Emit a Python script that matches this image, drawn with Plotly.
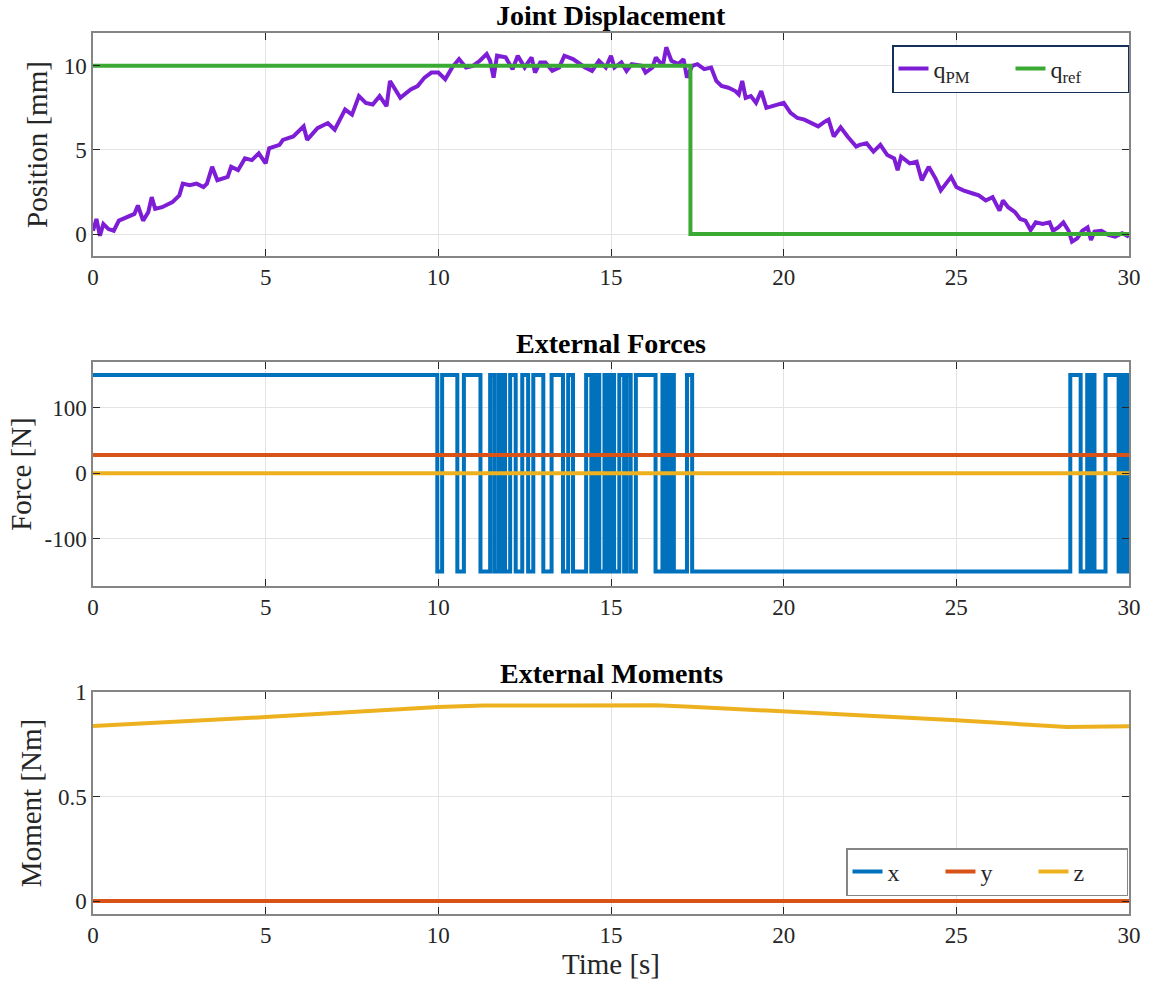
import plotly.graph_objects as go

# ---------------- data ----------------
t_pm = [0.0, 0.1, 0.2, 0.3, 0.45, 0.6, 0.75, 1.0, 1.2, 1.3, 1.45, 1.6, 1.7, 1.8, 2.0, 2.3, 2.5, 2.6, 2.8, 3.0,
        3.2, 3.3, 3.45, 3.6, 3.9, 4.0, 4.2, 4.4, 4.6, 4.8, 5.0, 5.1, 5.4, 5.5, 5.8, 6.1, 6.2, 6.5, 6.8, 7.0,
        7.3, 7.5, 7.7, 7.9, 8.1, 8.3, 8.5, 8.6, 8.8, 8.9, 9.2, 9.4, 9.6, 9.8, 10.0, 10.2, 10.4, 10.6, 10.8, 11.0,
        11.2, 11.4, 11.5, 11.6, 11.7, 11.95, 12.15, 12.3, 12.5, 12.7, 12.8, 12.95, 13.1, 13.3, 13.5, 13.65, 13.9, 14.1, 14.25, 14.45,
        14.65, 14.85, 15.0, 15.1, 15.3, 15.45, 15.6, 15.9, 16.0, 16.2, 16.3, 16.5, 16.6, 16.75, 16.95, 17.1, 17.2, 17.35, 17.5, 17.7,
        17.9, 18.05, 18.2, 18.4, 18.6, 18.7, 18.8, 18.9, 19.05, 19.2, 19.35, 19.5, 19.7, 20.0, 20.2, 20.4, 20.6, 20.8, 21.0, 21.2,
        21.3, 21.45, 21.65, 21.85, 22.1, 22.2, 22.4, 22.6, 22.8, 23.0, 23.2, 23.3, 23.4, 23.65, 23.85, 24.0, 24.2, 24.4, 24.55, 24.7,
        24.85, 25.0, 25.2, 25.5, 25.65, 25.85, 26.05, 26.25, 26.35, 26.5, 26.7, 26.85, 27.0, 27.15, 27.3, 27.5, 27.7, 27.8, 27.95, 28.1,
        28.25, 28.35, 28.5, 28.65, 28.8, 28.9, 29.0, 29.2, 29.4, 29.6, 29.8, 30.0]
q_pm = [0.2, 0.9, -0.1, 0.6, 0.3, 0.2, 0.8, 1.0, 1.2, 1.7, 0.8, 1.3, 2.2, 1.5, 1.6, 1.9, 2.3, 3.0, 2.9, 3.0,
        2.8, 3.0, 4.0, 3.2, 3.4, 4.0, 3.8, 4.5, 4.4, 4.8, 4.2, 5.1, 5.3, 5.6, 5.8, 6.4, 5.6, 6.3, 6.6, 6.2,
        7.4, 7.1, 8.2, 7.8, 7.7, 8.2, 7.6, 9.1, 8.5, 8.1, 8.6, 8.8, 9.3, 9.6, 9.6, 9.2, 9.9, 10.4, 9.9, 10.0,
        10.3, 10.7, 10.3, 9.3, 10.6, 10.5, 9.8, 10.6, 9.9, 10.5, 9.6, 10.2, 10.2, 9.7, 9.9, 10.6, 10.4, 10.1, 9.9, 9.7,
        10.3, 9.9, 10.6, 9.9, 10.2, 9.7, 10.1, 10.0, 9.6, 9.9, 10.5, 10.0, 11.1, 10.3, 10.1, 10.4, 9.3, 10.0, 10.1, 9.8,
        9.9, 9.1, 8.8, 8.7, 8.5, 8.3, 9.1, 8.1, 8.2, 7.8, 8.5, 7.5, 7.6, 7.8, 7.2, 6.9, 6.8, 6.6, 6.4, 6.7,
        6.8, 5.8, 6.35, 5.8, 5.2, 5.3, 5.4, 4.9, 5.3, 4.7, 4.5, 3.8, 4.6, 4.2, 4.3, 3.2, 4.0, 3.3, 2.6, 3.0,
        3.4, 2.8, 2.6, 2.4, 2.3, 2.0, 2.2, 1.4, 2.0, 1.6, 1.3, 0.9, 0.8, 0.24, 0.7, 0.6, 0.7, 0.2, 0.4, 0.7,
        0.2, -0.45, -0.25, 0.2, 0.4, -0.35, 0.15, 0.2, -0.05, -0.15, 0.05, -0.15]

t_ref = [0.0, 17.3, 17.3, 30.0]
q_ref = [10.0, 10.0, 0.0, 0.0]

fx_t = [0.0, 9.97, 10.11, 10.55, 10.74, 11.22, 11.50, 11.62, 11.74, 11.84, 11.89, 11.93, 12.08, 12.24, 12.43,
        12.60, 12.75, 13.04, 13.28, 13.61, 13.76, 13.90, 14.28, 14.43, 14.47, 14.57, 14.63, 14.66, 14.81, 14.90,
        14.95, 15.00, 15.05, 15.09, 15.24, 15.38, 15.45, 15.57, 15.72, 16.29, 16.49, 16.58, 16.62, 16.70, 16.74,
        16.82, 17.20, 17.35, 28.30, 28.60, 28.79, 28.88, 28.93, 29.00, 29.32, 29.70, 29.74, 29.78, 29.82, 29.86,
        29.90, 29.94, 29.97, 30.00]
fx_v = [150, -150, 150, -150, 150, -150, 150, -150, 150, -150, 150, -150, 150, -150, 150,
        -150, 150, -150, 150, -150, 150, -150, 150, -150, 150, -150, 150, -150, 150, -150,
        150, -150, 150, -150, 150, -150, 150, -150, 150, -150, 150, -150, 150, -150, 150,
        -150, 150, -150, 150, -150, 150, -150, 150, -150, 150, -150, 150, -150, 150, -150,
        150, -150, 150, -150]
f_t = [0.0, 30.0]
fy_v = [28.0, 28.0]
fz_v = [0.0, 0.0]

m_t = [0.0, 30.0]
mx_v = [0.0, 0.0]
my_v = [0.0, 0.0]
mz_t = [0.0, 5.0, 10.0, 11.3, 13.5, 16.3, 17.3, 20.0, 25.0, 28.2, 30.0]
mz_v = [0.837, 0.88, 0.928, 0.935, 0.935, 0.937, 0.93, 0.908, 0.865, 0.832, 0.836]

x_ticks = [0, 5, 10, 15, 20, 25, 30]

# ---------------- colours ----------------
C_PURPLE = '#7E1DD6'
C_GREEN = '#3BAA35'
C_BLUE = '#0072BD'
C_RED = '#D95319'
C_YEL = '#EDB120'
FONT = 'Liberation Serif'
LW = 4

fig = go.Figure()
fig.add_trace(go.Scatter(x=t_pm, y=q_pm, mode='lines', name='q<sub>PM</sub>',
                         line=dict(color=C_PURPLE, width=LW), xaxis='x', yaxis='y', legend='legend'))
fig.add_trace(go.Scatter(x=t_ref, y=q_ref, mode='lines', name='q<sub>ref</sub>',
                         line=dict(color=C_GREEN, width=LW), xaxis='x', yaxis='y', legend='legend'))

fig.add_trace(go.Scatter(x=fx_t, y=fx_v, mode='lines', line_shape='hv', showlegend=False,
                         line=dict(color=C_BLUE, width=LW), xaxis='x2', yaxis='y2'))
fig.add_trace(go.Scatter(x=f_t, y=fy_v, mode='lines', showlegend=False,
                         line=dict(color=C_RED, width=LW), xaxis='x2', yaxis='y2'))
fig.add_trace(go.Scatter(x=f_t, y=fz_v, mode='lines', showlegend=False,
                         line=dict(color=C_YEL, width=LW), xaxis='x2', yaxis='y2'))

fig.add_trace(go.Scatter(x=m_t, y=mx_v, mode='lines', name='x',
                         line=dict(color=C_BLUE, width=LW), xaxis='x3', yaxis='y3', legend='legend2'))
fig.add_trace(go.Scatter(x=m_t, y=my_v, mode='lines', name='y',
                         line=dict(color=C_RED, width=LW), xaxis='x3', yaxis='y3', legend='legend2'))
fig.add_trace(go.Scatter(x=mz_t, y=mz_v, mode='lines', name='z',
                         line=dict(color=C_YEL, width=LW), xaxis='x3', yaxis='y3', legend='legend2'))

W, H = 1153, 988
L, R, T, B = 93, 16, 33, 74
ph = H - T - B


def dom(top_px, bot_px):
    return [(H - B - bot_px) / ph, (H - B - top_px) / ph]


def py(px):
    return (H - B - px) / ph


def pxx(px):
    return (px - L) / (W - L - R)


TXT = '#262626'
axis_common = dict(showgrid=True, gridcolor='#e3e3e3', gridwidth=1, zeroline=False,
                   showline=True, linecolor='#858585', linewidth=1.5, mirror='ticks',
                   ticks='inside', ticklen=7, tickcolor=TXT, tickwidth=1.2,
                   tickfont=dict(family=FONT, size=23, color=TXT))
TITLE_FONT = dict(family=FONT, size=29, color=TXT)
HEAD_FONT = dict(family=FONT, size=28, color='#000000')

xcommon = dict(axis_common, range=[0, 30], tickvals=x_ticks, ticktext=[str(v) for v in x_ticks], domain=[0, 1])

fig.update_layout(
    width=W, height=H, margin=dict(l=L, r=R, t=T, b=B),
    paper_bgcolor='white', plot_bgcolor='white',
    font=dict(family=FONT, color=TXT),
    xaxis=dict(xcommon, anchor='y'),
    xaxis2=dict(xcommon, anchor='y2'),
    xaxis3=dict(xcommon, anchor='y3',
                title=dict(text='Time [s]', font=TITLE_FONT, standoff=4)),
    yaxis=dict(axis_common, domain=dom(33, 256), anchor='x', range=[-1.3, 11.95],
               tickvals=[0, 5, 10], ticktext=['0', '5', '10'],
               title=dict(text='Position [mm]', font=TITLE_FONT, standoff=8)),
    yaxis2=dict(axis_common, domain=dom(362, 586), anchor='x2', range=[-172, 170],
                tickvals=[-100, 0, 100], ticktext=['-100', '0', '100'],
                title=dict(text='Force [N]', font=TITLE_FONT, standoff=4)),
    yaxis3=dict(axis_common, domain=dom(692, 914), anchor='x3', range=[-0.062, 1.0],
                tickvals=[0, 0.5, 1], ticktext=['0', '0.5', '1'],
                title=dict(text='Moment [Nm]', font=TITLE_FONT, standoff=8)),
    legend=dict(orientation='h', x=pxx(1137), xanchor='right', y=py(45), yanchor='top',
                bgcolor='white', bordercolor='#15305A', borderwidth=1.5,
                entrywidth=72, entrywidthmode='pixels',
                font=dict(family=FONT, size=24, color=TXT)),
    legend2=dict(orientation='h', x=pxx(1136), xanchor='right', y=py(848), yanchor='top',
                 bgcolor='white', bordercolor='#858585', borderwidth=1.5,
                 entrywidth=48, entrywidthmode='pixels',
                 font=dict(family=FONT, size=24, color=TXT)),
    annotations=[
        dict(text='<b>Joint Displacement</b>', x=0.5, y=py(16), xref='paper', yref='paper',
             showarrow=False, xanchor='center', yanchor='middle', font=HEAD_FONT),
        dict(text='<b>External Forces</b>', x=0.5, y=py(343), xref='paper', yref='paper',
             showarrow=False, xanchor='center', yanchor='middle', font=HEAD_FONT),
        dict(text='<b>External Moments</b>', x=0.5, y=py(673), xref='paper', yref='paper',
             showarrow=False, xanchor='center', yanchor='middle', font=HEAD_FONT),
    ],
    showlegend=True,
)

fig.write_html('out.html')
